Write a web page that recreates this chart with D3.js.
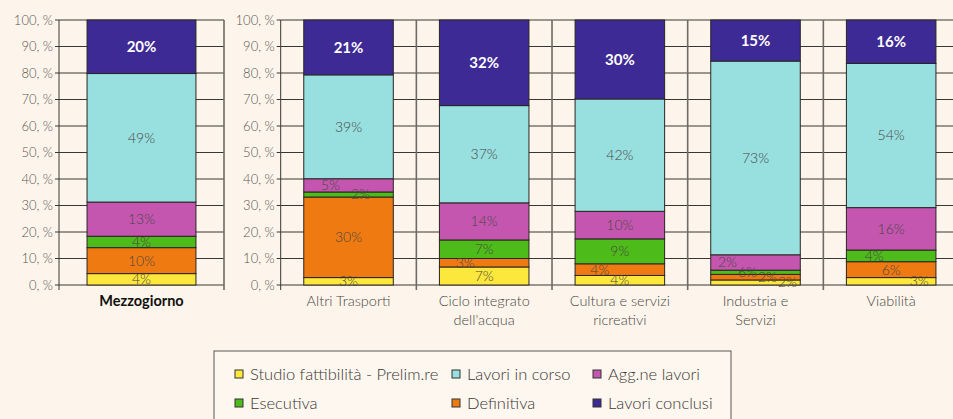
<!DOCTYPE html>
<html>
<head>
<meta charset="utf-8">
<script src="https://cdn.jsdelivr.net/npm/d3@7"></script>
<style>
  body { margin: 0; background: #fdf5eb; }
  svg { display: block; font-family: Lato, "Open Sans", sans-serif; }
</style>
</head>
<body>
<svg></svg>
<script>
var width = 953;
var height = 419;

// categories (first one goes in the left panel)
var categories = ["Mezzogiorno", "Altri Trasporti", "Ciclo integrato dell'acqua",
                  "Cultura e servizi ricreativi", "Industria e Servizi", "Viabilità"];
var categoryLines = [["Mezzogiorno"], ["Altri Trasporti"], ["Ciclo integrato", "dell'acqua"],
                     ["Cultura e servizi", "ricreativi"], ["Industria e", "Servizi"], ["Viabilità"]];

var seriesNames = ["Studio fattibilità - Prelim.re", "Definitiva", "Esecutiva",
                   "Agg.ne lavori", "Lavori in corso", "Lavori conclusi"];

// values, % (bottom to top)
var studio     = [4.3, 2.8, 6.8, 3.6, 1.9, 2.8];
var definitiva = [9.8, 30.4, 3.2, 4.4, 2.1, 6.0];
var esecutiva  = [4.3, 1.9, 7.0, 9.4, 1.6, 4.4];
var aggLavori  = [12.9, 5.0, 14.0, 10.4, 5.8, 16.0];
var inCorso    = [48.5, 39.2, 36.7, 42.4, 73.1, 54.4];
var conclusi   = [20.2, 20.7, 32.3, 29.8, 15.5, 16.4];

// printed data labels
var studioLbl     = ["4%", "3%", "7%", "4%", "2%", "3%"];
var definitivaLbl = ["10%", "30%", "3%", "4%", "2%", "6%"];
var esecutivaLbl  = ["4%", "2%", "7%", "9%", "6%", "4%"];
var aggLavoriLbl  = ["13%", "5%", "14%", "10%", "2%", "16%"];
var inCorsoLbl    = ["49%", "39%", "37%", "42%", "73%", "54%"];
var conclusiLbl   = ["20%", "21%", "32%", "30%", "15%", "16%"];

var yTicks = [0, 10, 20, 30, 40, 50, 60, 70, 80, 90, 100];

var allValues = [studio, definitiva, esecutiva, aggLavori, inCorso, conclusi];
var allLabels = [studioLbl, definitivaLbl, esecutivaLbl, aggLavoriLbl, inCorsoLbl, conclusiLbl];
var colors = ["#fce73c", "#f07a12", "#4dbb19", "#c456b0", "#97e0df", "#3e2a95"];

// horizontal nudges for crowded labels, px
var nudge = {
  "Altri Trasporti|3": -18, "Altri Trasporti|2": 12,
  "Ciclo integrato dell'acqua|1": -19,
  "Cultura e servizi ricreativi|1": -20,
  "Industria e Servizi|3": -28, "Industria e Servizi|2": -8,
  "Industria e Servizi|1": 12, "Industria e Servizi|0": 32,
  "Viabilità|2": -17, "Viabilità|0": 28
};

var rows = categories.map(function(c, i) {
  var r = { cat: c, idx: i };
  seriesNames.forEach(function(s, k) { r[k] = allValues[k][i]; });
  return r;
});

var stack = d3.stack().keys(d3.range(seriesNames.length))(rows);

var svg = d3.select("svg").attr("width", width).attr("height", height);

var y = d3.scaleLinear().domain([0, 100]).range([285, 20]);

function drawPanel(catIdx, x0, x1, bold) {
  var x = d3.scaleBand()
    .domain(catIdx.map(i => categories[i]))
    .range([x0, x1])
    .paddingInner(0.34)
    .paddingOuter(0.17);

  var g = svg.append("g");

  // horizontal grid
  g.selectAll(".hgrid")
    .data(yTicks)
    .enter().append("line")
      .attr("x1", x0).attr("x2", x1)
      .attr("y1", d => y(d)).attr("y2", d => y(d))
      .attr("stroke", "#3a3633")
      .attr("stroke-width", 1);

  // vertical grid at category boundaries
  var step = (x1 - x0) / catIdx.length;
  g.selectAll(".vgrid")
    .data(d3.range(catIdx.length + 1))
    .enter().append("line")
      .attr("x1", d => x0 + d * step).attr("x2", d => x0 + d * step)
      .attr("y1", y(100)).attr("y2", y(0) + 5)
      .attr("stroke", d => d === 0 ? "#3a3633" : "#6f6a65")
      .attr("stroke-width", d => d === 0 ? 1 : 1.6);

  // y ticks + labels
  g.selectAll(".ytick")
    .data(yTicks)
    .enter().append("line")
      .attr("x1", x0 - 4).attr("x2", x0)
      .attr("y1", d => y(d)).attr("y2", d => y(d))
      .attr("stroke", "#3a3633");

  g.selectAll(".ylab")
    .data(yTicks)
    .enter().append("text")
      .attr("x", x0 - 6)
      .attr("y", d => y(d))
      .attr("dy", "0.35em")
      .attr("text-anchor", "end")
      .style("font-size", "13px")
      .style("font-weight", 300)
      .attr("fill", "#5a5653")
      .text(d => d + ", %");

  // stacked bars
  stack.forEach(function(layer, k) {
    var pts = layer.filter(d => catIdx.indexOf(d.data.idx) >= 0);
    g.selectAll(".bar" + k)
      .data(pts)
      .enter().append("rect")
        .attr("x", d => x(d.data.cat))
        .attr("width", x.bandwidth())
        .attr("y", d => y(d[1]))
        .attr("height", d => y(d[0]) - y(d[1]))
        .attr("fill", colors[k])
        .attr("stroke", "#2a2522")
        .attr("stroke-width", 1);
  });

  // data labels
  stack.forEach(function(layer, k) {
    var pts = layer.filter(d => catIdx.indexOf(d.data.idx) >= 0);
    g.selectAll(".lab" + k)
      .data(pts)
      .enter().append("text")
        .attr("x", d => x(d.data.cat) + x.bandwidth() / 2 + (nudge[d.data.cat + "|" + k] || 0))
        .attr("y", d => y((d[0] + d[1]) / 2))
        .attr("dy", "0.35em")
        .attr("text-anchor", "middle")
        .style("font-size", k === 5 ? "15px" : "14px")
        .style("font-weight", k === 5 ? 700 : 300)
        .attr("fill", k === 5 ? "#ffffff" : "#4a4643")
        .text(d => allLabels[k][d.data.idx]);
  });

  // category labels
  catIdx.forEach(function(i) {
    var t = g.append("text")
      .attr("x", x(categories[i]) + x.bandwidth() / 2)
      .attr("y", 306)
      .attr("text-anchor", "middle")
      .style("font-size", "14.5px")
      .style("font-weight", bold ? 700 : 300)
      .attr("fill", bold ? "#111" : "#4a4643");
    categoryLines[i].forEach(function(line, j) {
      t.append("tspan")
        .attr("x", x(categories[i]) + x.bandwidth() / 2)
        .attr("dy", j === 0 ? 0 : 19)
        .text(line);
    });
  });
}

drawPanel([0], 59, 224, true);
drawPanel([1, 2, 3, 4, 5], 280.7, 959, false);

// legend
var legend = svg.append("g");
legend.append("rect")
  .attr("x", 214).attr("y", 351)
  .attr("width", 517).attr("height", 90)
  .attr("fill", "#fdf7ef")
  .attr("stroke", "#5a5653")
  .attr("stroke-width", 1);

var legendOrder = [0, 4, 3, 2, 1, 5];
var legendCols = [239, 456, 597];
legendOrder.forEach(function(k, n) {
  var cx = legendCols[n % 3];
  var cy = n < 3 ? 374 : 403;
  legend.append("rect")
    .attr("x", cx - 4).attr("y", cy - 4)
    .attr("width", 8).attr("height", 8)
    .attr("fill", colors[k])
    .attr("stroke", "#333")
    .attr("stroke-width", 1);
  legend.append("text")
    .attr("x", cx + 11)
    .attr("y", cy)
    .attr("dy", "0.35em")
    .style("font-size", "16.5px")
    .style("font-weight", 300)
    .attr("fill", "#3a3633")
    .text(seriesNames[k]);
});
</script>
</body>
</html>
